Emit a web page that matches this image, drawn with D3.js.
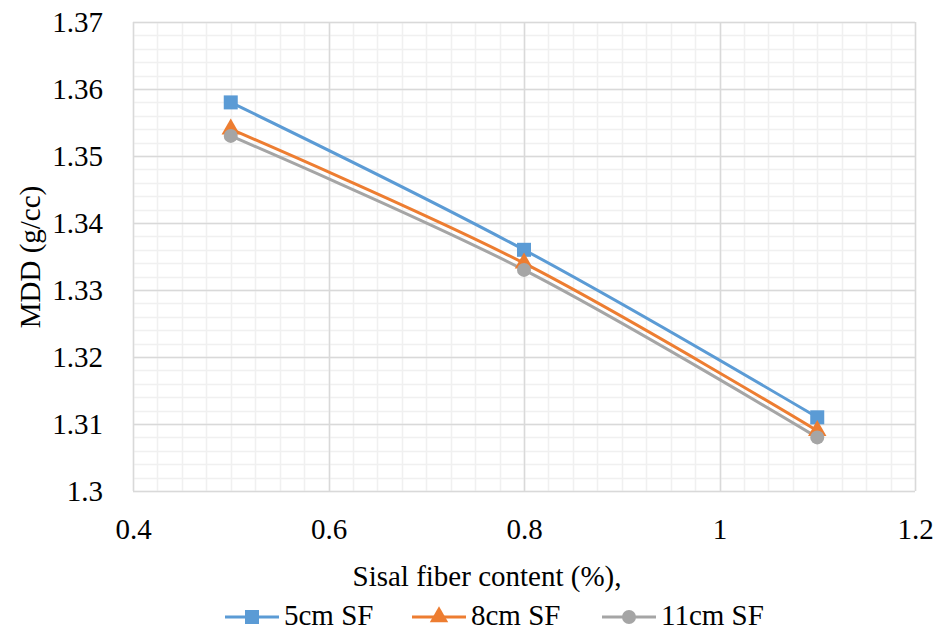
<!DOCTYPE html>
<html><head><meta charset="utf-8">
<script src="https://cdnjs.cloudflare.com/ajax/libs/d3/7.8.5/d3.min.js"></script>
</head><body style="margin:0;background:#fff"><svg id="c" width="938" height="631" font-family="Liberation Serif" style="display:block"></svg>
<script>
const xValues = [0.5, 0.8, 1.1];
const seriesNames = ["5cm SF", "8cm SF", "11cm SF"];
const s5cm = [1.358, 1.336, 1.311];
const s8cm = [1.354, 1.334, 1.309];
const s11cm = [1.353, 1.333, 1.308];
const xTicks = [0.4, 0.6, 0.8, 1.0, 1.2];
const yTicks = [1.30, 1.31, 1.32, 1.33, 1.34, 1.35, 1.36, 1.37];
const colors = ["#5B9BD5", "#ED7D31", "#A5A5A5"];
const markers = ["square", "triangle", "circle"];
const series = [s5cm, s8cm, s11cm];

const FS = 29;
const FF = "Liberation Serif";
const svg = d3.select("#c");
const L = 133, R = 915, T = 22, B = 491;
const x = d3.scaleLinear().domain([0.4, 1.2]).range([L, R]);
const y = d3.scaleLinear().domain([1.30, 1.37]).range([B, T]);

function serif(sel) {
  return sel.attr("font-family", FF).style("font-family", "'Liberation Serif'").attr("font-size", FS).attr("fill", "#000");
}

// minor grid
const xMinor = d3.range(0, 33).map(i => 0.4 + i * 0.025);
const yMinor = d3.range(0, 36).map(i => 1.30 + i * 0.002);
const g = svg.append("g");
g.selectAll(".xm").data(xMinor).enter().append("line")
  .attr("x1", d => Math.round(x(d)) + 0.5).attr("x2", d => Math.round(x(d)) + 0.5)
  .attr("y1", T).attr("y2", B).attr("stroke", "#f0f0f0").attr("stroke-width", 1.5);
g.selectAll(".ym").data(yMinor).enter().append("line")
  .attr("y1", d => Math.round(y(d)) + 0.5).attr("y2", d => Math.round(y(d)) + 0.5)
  .attr("x1", L).attr("x2", R).attr("stroke", "#f0f0f0").attr("stroke-width", 1.5);
// major grid
g.selectAll(".xM").data(xTicks).enter().append("line")
  .attr("x1", d => Math.round(x(d)) + 0.5).attr("x2", d => Math.round(x(d)) + 0.5)
  .attr("y1", T).attr("y2", B).attr("stroke", "#d9d9d9").attr("stroke-width", 1.5);
g.selectAll(".yM").data(yTicks).enter().append("line")
  .attr("y1", d => Math.round(y(d)) + 0.5).attr("y2", d => Math.round(y(d)) + 0.5)
  .attr("x1", L).attr("x2", R).attr("stroke", "#d9d9d9").attr("stroke-width", 1.5);

// axes (labels via d3 axes, no lines)
const yAxis = svg.append("g").attr("transform", `translate(${L},0)`)
  .call(d3.axisLeft(y).tickValues(yTicks).tickSize(0).tickPadding(30).tickFormat(d => +d.toFixed(2) + ""));
yAxis.select(".domain").remove();
yAxis.attr("font-family", FF).attr("font-size", FS);
serif(yAxis.selectAll("text")).attr("dy", "0.33em");

const xAxis = svg.append("g").attr("transform", `translate(0,${B})`)
  .call(d3.axisBottom(x).tickValues(xTicks).tickSize(0).tickPadding(27).tickFormat(d => +d.toFixed(1) + ""));
xAxis.select(".domain").remove();
xAxis.attr("font-family", FF).attr("font-size", FS);
serif(xAxis.selectAll("text"));

// axis titles
serif(svg.append("text").attr("x", 487).attr("y", 586).attr("text-anchor", "middle")).text("Sisal fiber content (%),");
serif(svg.append("text").attr("transform", `translate(40,257) rotate(-90)`).attr("text-anchor", "middle")).text("MDD (g/cc)");

// lines
const line = d3.line().x((d, i) => x(xValues[i])).y(d => y(d)).curve(d3.curveCatmullRom.alpha(0.5));
function drawMarker(sel, type, cx, cy, color, size) {
  if (type === "square") sel.append("rect").attr("x", cx - size / 2).attr("y", cy - size / 2)
    .attr("width", size).attr("height", size).attr("fill", color);
  else if (type === "triangle") sel.append("path")
    .attr("d", d3.symbol().type(d3.symbolTriangle).size(size * size * 0.75)())
    .attr("transform", `translate(${cx},${cy})`).attr("fill", color);
  else sel.append("circle").attr("cx", cx).attr("cy", cy).attr("r", size / 2).attr("fill", color);
}
series.forEach((s, k) => {
  svg.append("path").attr("d", line(s)).attr("fill", "none").attr("stroke", colors[k]).attr("stroke-width", 3);
});
series.forEach((s, k) => {
  const mg = svg.append("g");
  s.forEach((v, i) => drawMarker(mg, markers[k], x(xValues[i]), y(v), colors[k], 14));
});

// legend
const legX = [225, 412, 602];
seriesNames.forEach((n, k) => {
  const lg = svg.append("g");
  lg.append("line").attr("x1", legX[k]).attr("x2", legX[k] + 54).attr("y1", 617).attr("y2", 617)
    .attr("stroke", colors[k]).attr("stroke-width", 3);
  drawMarker(lg, markers[k], legX[k] + 27, 617, colors[k], 14);
  serif(lg.append("text").attr("x", legX[k] + 59).attr("y", 625)).text(n);
});
</script></body></html>
